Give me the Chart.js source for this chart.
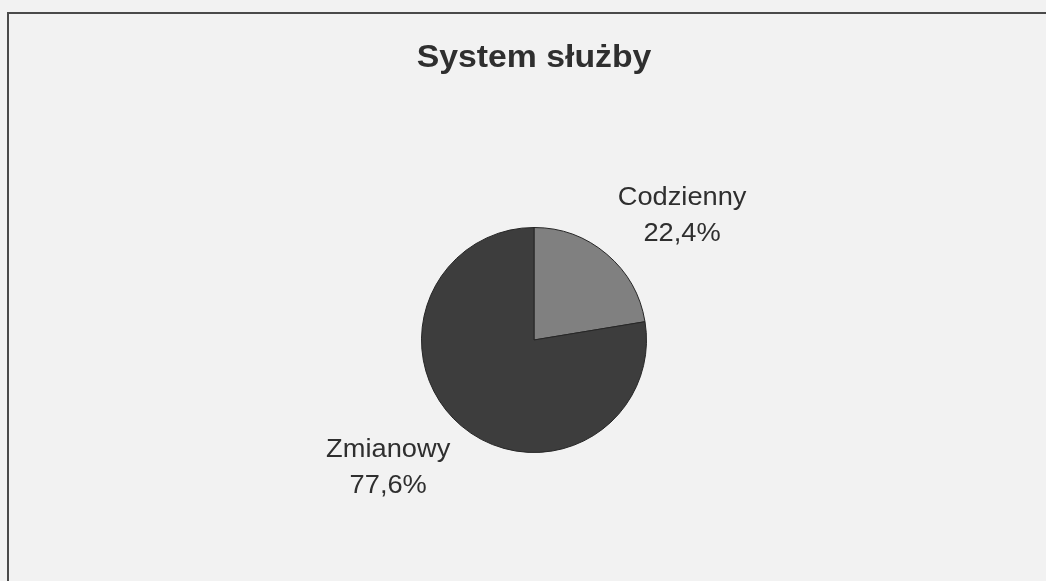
<!DOCTYPE html>
<html lang="pl">
  <head>
    <meta charset="UTF-8" />
    <title>System służby</title>
    <script src="https://cdn.jsdelivr.net/npm/chart.js"></script>
    <style>
      html, body { margin: 0; padding: 0; background: #f2f2f2; }
      #wrap { width: 1046px; height: 581px; }
    </style>
  </head>
  <body>
    <div id="wrap">
      <canvas id="pieChart" width="1046" height="581"></canvas>
    </div>
    <script>
      // data
      const chartTitle = "System służby";
      const categories = ["Codzienny", "Zmianowy"];
      const shares = [22.4, 77.6];
      const sliceColors = ["#808080", "#3d3d3d"];

      const fmt = (v) => v.toFixed(1).replace(".", ",") + "%";
      // the scanned original is a bit wider than tall
      const stretchX = 1.09;

      function wideText(ctx, text, x, y) {
        ctx.save();
        ctx.translate(x, y);
        ctx.scale(stretchX, 1);
        ctx.fillText(text, 0, 0);
        ctx.restore();
      }

      // background, frame, title and outside labels
      const decorPlugin = {
        id: "decor",
        beforeDraw(chart) {
          const ctx = chart.ctx;
          ctx.save();
          ctx.fillStyle = "#f2f2f2";
          ctx.fillRect(0, 0, chart.width, chart.height);
          ctx.strokeStyle = "#4a4a4a";
          ctx.lineWidth = 2;
          ctx.strokeRect(8, 13, chart.width + 20, chart.height + 20);
          ctx.fillStyle = "#2f2f2f";
          ctx.font = "bold 31px 'Liberation Sans', Arial, sans-serif";
          ctx.textAlign = "center";
          ctx.textBaseline = "alphabetic";
          wideText(ctx, chartTitle, 534, 67);
          ctx.restore();
        },
        afterDatasetsDraw(chart) {
          const ctx = chart.ctx;
          const meta = chart.getDatasetMeta(0);
          ctx.save();
          ctx.fillStyle = "#2f2f2f";
          ctx.font = "25px 'Liberation Sans', Arial, sans-serif";
          ctx.textBaseline = "alphabetic";
          ctx.textAlign = "center";
          const lineH = 36;
          const capH = 18;
          meta.data.forEach((arc, i) => {
            const mid = (arc.startAngle + arc.endAngle) / 2;
            const ax = arc.x + Math.cos(mid) * arc.outerRadius * 1.15;
            const ay = arc.y + Math.sin(mid) * arc.outerRadius * 1.15;
            const lines = [categories[i], fmt(shares[i])];
            const w = stretchX * Math.max(...lines.map((t) => ctx.measureText(t).width));
            const cx = Math.cos(mid) >= 0 ? ax + w / 2 : ax - w / 2;
            const y0 = Math.sin(mid) < 0 ? ay - lineH * (lines.length - 1) : ay + capH;
            lines.forEach((t, k) => wideText(ctx, t, cx, y0 + k * lineH));
          });
          ctx.restore();
        },
      };

      new Chart(document.getElementById("pieChart").getContext("2d"), {
        type: "pie",
        data: {
          labels: categories,
          datasets: [
            {
              data: shares,
              backgroundColor: sliceColors,
              borderColor: "#262626",
              borderWidth: 1,
            },
          ],
        },
        options: {
          responsive: false,
          animation: false,
          layout: {
            padding: { left: 421, right: 399, top: 227, bottom: 128 },
          },
          plugins: {
            legend: { display: false },
            title: { display: false },
            tooltip: { enabled: false },
          },
        },
        plugins: [decorPlugin],
      });
    </script>
  </body>
</html>
